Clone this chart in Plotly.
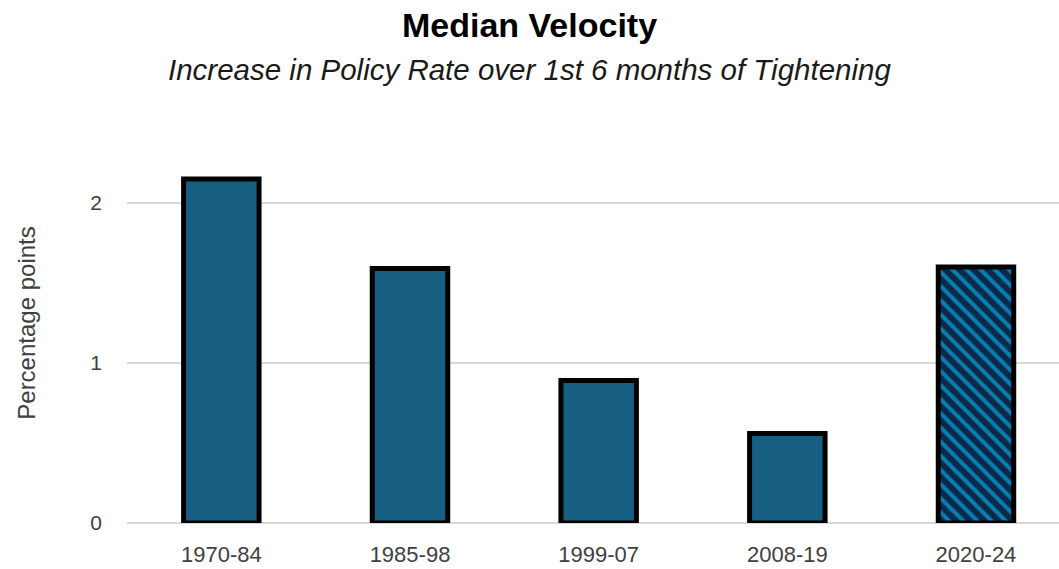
import plotly.graph_objects as go

categories = ["1970-84", "1985-98", "1999-07", "2008-19", "2020-24"]
values = [2.15, 1.59, 0.89, 0.56, 1.60]
hatched = [False, False, False, False, True]

title_text = "Median Velocity"
subtitle_text = "Increase in Policy Rate over 1st 6 months of Tightening"
y_title = "Percentage points"

bar_color = "#175f82"
stripe_color = "#0a7db3"
stripe_bg = "#0b2a48"

xs = list(range(len(categories)))
solid_x = [x for x, h in zip(xs, hatched) if not h]
solid_y = [v for v, h in zip(values, hatched) if not h]
hatch_x = [x for x, h in zip(xs, hatched) if h]
hatch_y = [v for v, h in zip(values, hatched) if h]

fig = go.Figure()
fig.add_trace(go.Bar(
    x=solid_x, y=solid_y, width=0.4,
    marker=dict(color=bar_color, line=dict(color="black", width=5)),
    showlegend=False,
))
fig.add_trace(go.Bar(
    x=hatch_x, y=hatch_y, width=0.4,
    marker=dict(
        color=stripe_color,
        line=dict(color="black", width=5),
        pattern=dict(shape="\\", fgcolor=stripe_color, bgcolor=stripe_bg,
                     fgopacity=1, size=10, solidity=0.4, fillmode="replace"),
    ),
    showlegend=False,
))

font_main = "Liberation Sans, Arial, sans-serif"
fig.update_layout(
    width=1059, height=569, barmode="overlay",
    paper_bgcolor="white", plot_bgcolor="white",
    margin=dict(l=127, r=0, t=123, b=46),
    font=dict(family=font_main, color="#404040"),
)
plot_h = 569 - 123 - 46
def ypix(px_from_top):
    return (569 - 46 - px_from_top) / plot_h
xc = (529.5 - 127) / (1059 - 127)
fig.add_annotation(text="<b>" + title_text + "</b>", x=xc, y=ypix(25), xref="paper", yref="paper",
                   showarrow=False, font=dict(size=34, color="black", family=font_main),
                   xanchor="center", yanchor="middle")
fig.add_annotation(text="<i>" + subtitle_text + "</i>", x=xc, y=ypix(70), xref="paper", yref="paper",
                   showarrow=False, font=dict(size=29.5, color="#1a1a1a", family=font_main),
                   xanchor="center", yanchor="middle")

fig.update_xaxes(
    tickmode="array", tickvals=xs, ticktext=categories,
    range=[-0.5, 4.44], showgrid=False, showline=False, zeroline=False,
    tickfont=dict(size=22, color="#404040"), ticks="", ticklabelstandoff=16,
)
fig.update_yaxes(
    range=[0, 2.5], tickvals=[0, 1, 2], showgrid=True, gridcolor="#d9d9d9", gridwidth=2,
    zeroline=True, zerolinecolor="#d9d9d9", zerolinewidth=2,
    tickfont=dict(size=21, color="#404040"), ticks="", ticklabelstandoff=24,
    title=dict(text=y_title, font=dict(size=24, color="#404040"), standoff=47),
)

fig.write_html("out.html", post_script="document.body.style.margin='0px';",
               config={"displayModeBar": False})
